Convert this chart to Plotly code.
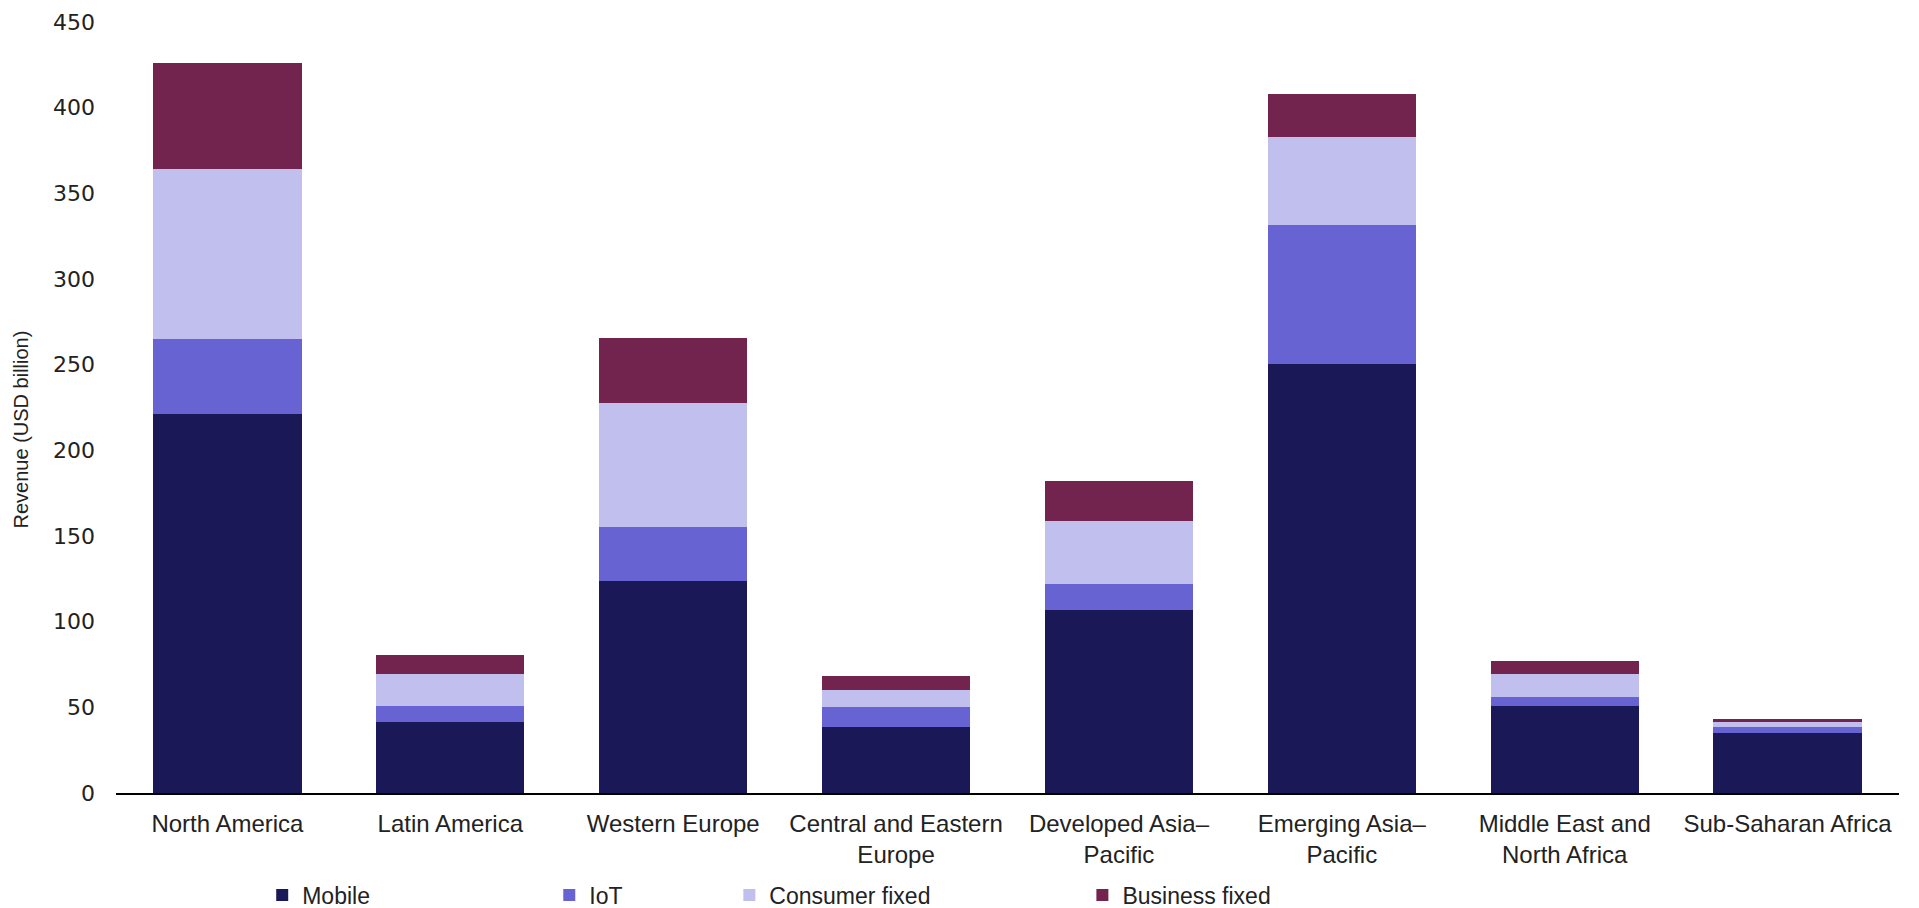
import plotly.graph_objects as go

categories = ["North America", "Latin America", "Western Europe", "Central and Eastern<br>Europe",
              "Developed Asia–<br>Pacific", "Emerging Asia–<br>Pacific", "Middle East and<br>North Africa",
              "Sub-Saharan Africa"]
mobile = [221, 41.5, 124, 38.5, 107, 250.5, 51, 35]
iot = [44, 9, 31.5, 11.5, 15, 81, 5, 3.5]
consumer_fixed = [99, 19, 72, 10, 37, 51.5, 13.5, 3]
business_fixed = [62, 11, 38, 8.5, 23, 25, 7.5, 1.5]

series = [
    ("Mobile", mobile, "#1B1858"),
    ("IoT", iot, "#6763D3"),
    ("Consumer fixed", consumer_fixed, "#C0BFEE"),
    ("Business fixed", business_fixed, "#72244E"),
]

narrow = "Liberation Sans Narrow, Arial Narrow, Liberation Sans, Arial, sans-serif"

fig = go.Figure()
legend_names = ["legend", "legend2", "legend3", "legend4"]
legend_x = [0.082, 0.243, 0.344, 0.542]
for (name, vals, col), lg in zip(series, legend_names):
    fig.add_trace(go.Bar(name=name, x=categories, y=vals, marker_color=col,
                         marker_line_width=0, legend=lg))

leg_common = dict(orientation="h", yanchor="middle", xanchor="left", yref="container",
                  y=0.0143,
                  font=dict(family=narrow, size=23, color="#222"),
                  itemwidth=30, bgcolor="rgba(0,0,0,0)", tracegroupgap=0)
layout_legends = {}
for lg, lx in zip(legend_names, legend_x):
    layout_legends[lg] = dict(leg_common, x=lx)

fig.update_layout(
    barmode="stack",
    bargap=0.335,
    width=1919, height=908,
    margin=dict(l=116, r=20, t=22, b=115, autoexpand=False),
    plot_bgcolor="white", paper_bgcolor="white",
    showlegend=True,
    **layout_legends,
    xaxis=dict(showline=True, linecolor="black", linewidth=2, ticks="",
               ticklabelstandoff=8,
               tickfont=dict(family=narrow, size=24, color="#222")),
    yaxis=dict(range=[0, 450], dtick=50, showgrid=False, zeroline=False, showline=False,
               ticks="", ticklabelstandoff=20,
               tickfont=dict(family="DejaVu Sans", size=22, color="#222")),
    annotations=[dict(text="Revenue (USD billion)", xref="paper", yref="paper",
                      x=-0.0535, y=0.471, xanchor="center", yanchor="middle",
                      textangle=-90, showarrow=False,
                      font=dict(family=narrow, size=20, color="#222"))],
)

fig.write_html("out.html")
